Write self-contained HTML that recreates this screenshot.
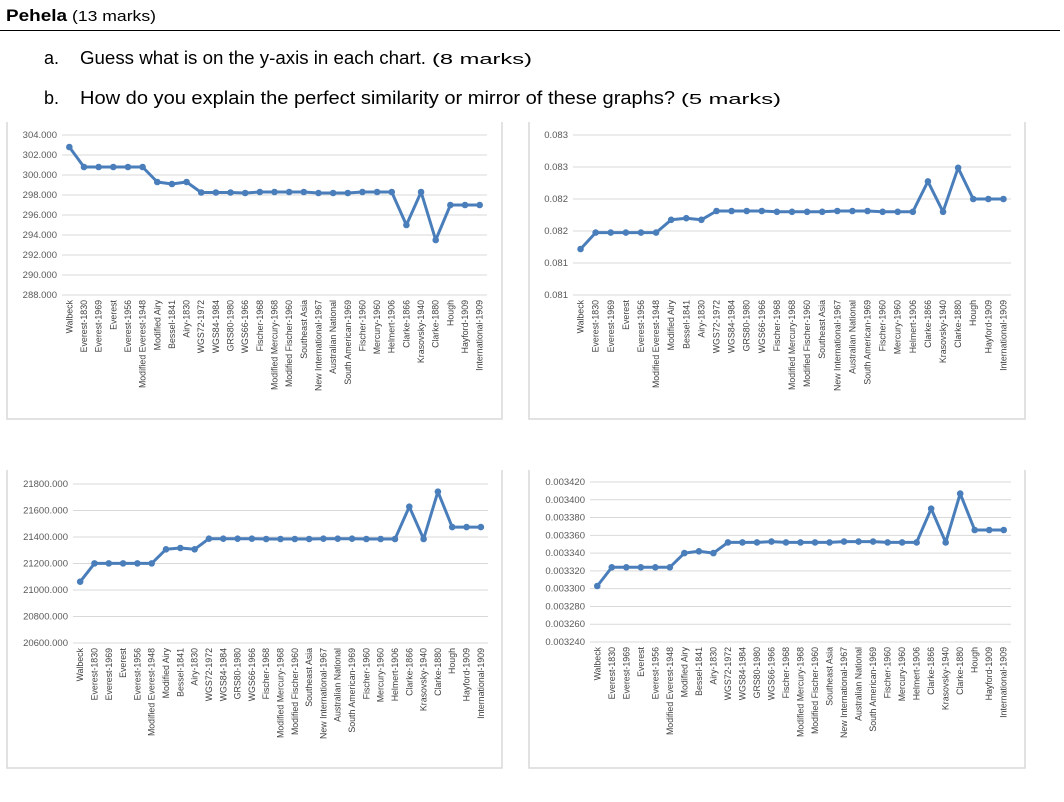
<!DOCTYPE html>
<html><head><meta charset="utf-8"><style>
body{margin:0;background:#fff;width:1064px;height:802px;overflow:hidden;font-family:"Liberation Sans",sans-serif}
svg{position:absolute;left:0;top:0}
</style></head><body>
<svg id="s" width="1064" height="802">
<text x="6" y="21" font-size="17" font-weight="bold" fill="#000" textLength="61" lengthAdjust="spacingAndGlyphs">Pehela</text>
<text x="72" y="21" font-size="15" fill="#000" textLength="84" lengthAdjust="spacingAndGlyphs">(13 marks)</text>
<line x1="0" y1="30.5" x2="1060" y2="30.5" stroke="#000" stroke-width="1"/>
<text x="44" y="64" font-size="18" fill="#000">a.</text>
<text x="80" y="64" font-size="18" fill="#000" textLength="346" lengthAdjust="spacingAndGlyphs">Guess what is on the y-axis in each chart.</text>
<text x="432" y="64" font-size="15" fill="#000" textLength="100" lengthAdjust="spacingAndGlyphs">(8 marks)</text>
<text x="44" y="104" font-size="18" fill="#000">b.</text>
<text x="80" y="104" font-size="18" fill="#000" textLength="595" lengthAdjust="spacingAndGlyphs">How do you explain the perfect similarity or mirror of these graphs?</text>
<text x="681" y="104" font-size="15" fill="#000" textLength="100" lengthAdjust="spacingAndGlyphs">(5 marks)</text>
</svg>
<script>
const categories=["Walbeck","Everest-1830","Everest-1969","Everest","Everest-1956","Modified Everest-1948","Modified Airy","Bessel-1841","Airy-1830","WGS72-1972","WGS84-1984","GRS80-1980","WGS66-1966","Fischer-1968","Modified Mercury-1968","Modified Fischer-1960","Southeast Asia","New International-1967","Australian National","South American-1969","Fischer-1960","Mercury-1960","Helmert-1906","Clarke-1866","Krasovsky-1940","Clarke-1880","Hough","Hayford-1909","International-1909"];
const seriesA=[302.8,300.8,300.8,300.8,300.8,300.8,299.3,299.1,299.3,298.25,298.25,298.25,298.2,298.3,298.3,298.3,298.3,298.2,298.2,298.2,298.3,298.3,298.3,295.0,298.3,293.5,297.0,297.0,297.0];
const seriesB=[0.081575,0.08178,0.08178,0.08178,0.08178,0.08178,0.08194,0.08196,0.08194,0.08205,0.08205,0.08205,0.08205,0.08204,0.08204,0.08204,0.08204,0.08205,0.08205,0.08205,0.08204,0.08204,0.08204,0.08242,0.08204,0.08259,0.0822,0.0822,0.0822];
const seriesC=[21063,21201,21201,21201,21201,21201,21307,21317,21307,21387,21387,21387,21387,21385,21385,21385,21385,21387,21387,21387,21385,21385,21385,21629,21385,21742,21475,21475,21475];
const seriesD=[0.003303,0.003324,0.003324,0.003324,0.003324,0.003324,0.003340,0.003342,0.003340,0.003352,0.003352,0.003352,0.003353,0.003352,0.003352,0.003352,0.003352,0.003353,0.003353,0.003353,0.003352,0.003352,0.003352,0.003390,0.003352,0.003407,0.003366,0.003366,0.003366];
const ticksA=["304.000","302.000","300.000","298.000","296.000","294.000","292.000","290.000","288.000"];
const ticksB=["0.083","0.083","0.082","0.082","0.081","0.081"];
const ticksC=["21800.000","21600.000","21400.000","21200.000","21000.000","20800.000","20600.000"];
const ticksD=["0.003420","0.003400","0.003380","0.003360","0.003340","0.003320","0.003300","0.003280","0.003260","0.003240"];
const NS="http://www.w3.org/2000/svg";
const svg=document.getElementById('s');
function mk(t,a,p){const e=document.createElementNS(NS,t);for(const k in a)e.setAttribute(k,a[k]);(p||svg).appendChild(e);return e;}
function chart(cfg){
  const g=mk('g',{});
  
  
  const f=mk('path',{d:`M${cfg.fx0},${cfg.fy0} V${cfg.fy1} H${cfg.fx1} V${cfg.fy0}`,fill:'none',stroke:'#d9d9d9','stroke-width':1.5},g);
  
  
  const n=cfg.ticks.length;
  const ymap=v=>cfg.yTop+(cfg.yMax-v)/(cfg.yMax-cfg.yMin)*(cfg.yBot-cfg.yTop);
  const xmap=i=>cfg.gx0+(i+0.5)*(cfg.gx1-cfg.gx0)/categories.length;
  for(let i=0;i<n;i++){
    const y=cfg.yTop+i*(cfg.yBot-cfg.yTop)/(n-1);
    const l=mk('line',{x1:cfg.gx0,x2:cfg.gx1,y1:y,y2:y,stroke:'#d9d9d9','stroke-width':1},g);
    
    
    const t=mk('text',{x:cfg.gx0-5,y:y+3,'text-anchor':'end','font-size':9.5,fill:'#595959'},g);
    t.textContent=cfg.ticks[i];
    
    
  }
  categories.forEach((c,i)=>{
    const x=xmap(i)+3,y=cfg.yBot+5;
    const t=mk('text',{x:x,y:y,transform:`rotate(-90 ${x} ${y})`,'text-anchor':'end','font-size':8.8,fill:'#404040'},g);
    t.textContent=c;
    
    
  });
  const pts=cfg.data.map((v,i)=>xmap(i).toFixed(1)+','+ymap(v).toFixed(1)).join(' ');
  const pl=mk('polyline',{points:pts,fill:'none',stroke:'#4a7ebb','stroke-width':3,'stroke-linejoin':'round'},g);
  
  
  cfg.data.forEach((v,i)=>{
    const c=mk('circle',{cx:xmap(i),cy:ymap(v),r:3.3,fill:'#4a7ebb'},g);
    
    
  });
}
chart({name:'chart-top-left',fx0:7,fx1:502,fy0:122,fy1:419,gx0:62,gx1:487,yTop:135,yBot:295,yMax:304,yMin:288,ticks:ticksA,data:seriesA});
chart({name:'chart-top-right',fx0:529,fx1:1025,fy0:122,fy1:419,gx0:573,gx1:1011,yTop:135,yBot:295,yMax:0.0830,yMin:0.0810,ticks:ticksB,data:seriesB});
chart({name:'chart-bottom-left',fx0:7,fx1:502,fy0:470,fy1:768,gx0:73,gx1:488,yTop:484,yBot:643,yMax:21800,yMin:20600,ticks:ticksC,data:seriesC});
chart({name:'chart-bottom-right',fx0:529,fx1:1025,fy0:470,fy1:768,gx0:590,gx1:1011,yTop:482,yBot:642,yMax:0.003420,yMin:0.003240,ticks:ticksD,data:seriesD});
</script>
</body></html>
